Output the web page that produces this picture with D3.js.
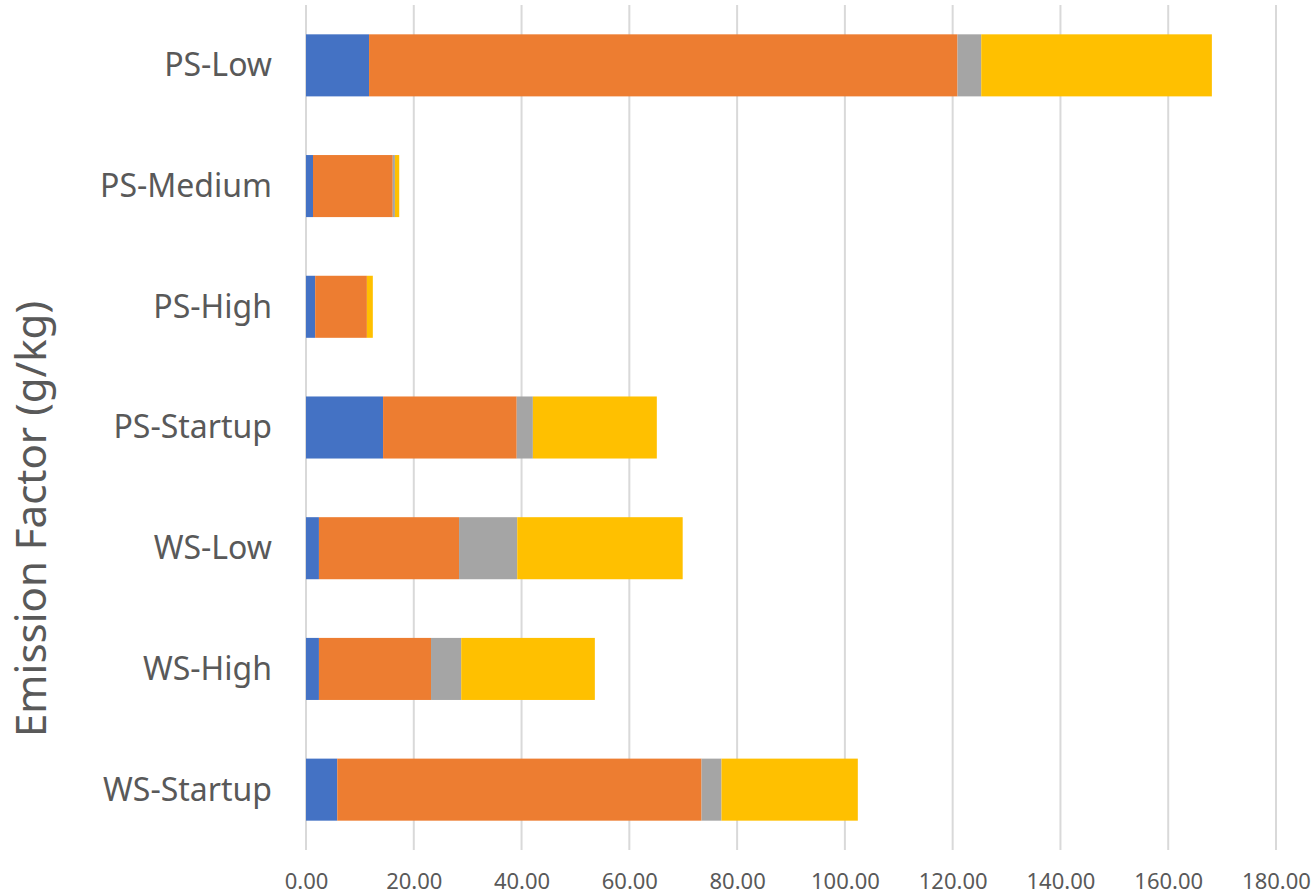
<!DOCTYPE html>
<html>
<head>
<meta charset="utf-8">
<script src="https://cdn.jsdelivr.net/npm/d3@7"></script>
<style>
  html, body { margin: 0; padding: 0; background: #ffffff; }
  svg { display: block; }
</style>
</head>
<body>
<svg id="chart" width="1311" height="896"></svg>
<script>
// ---- data ----
const categories = ["PS-Low", "PS-Medium", "PS-High", "PS-Startup", "WS-Low", "WS-High", "WS-Startup"];
const seriesKeys = ["s1", "s2", "s3", "s4"];
const series1 = [11.7, 1.3, 1.7, 14.3, 2.4, 2.4, 5.8];
const series2 = [109.2, 14.8, 9.6, 24.8, 26.0, 20.8, 67.6];
const series3 = [4.4, 0.4, 0.0, 3.0, 10.8, 5.6, 3.7];
const series4 = [42.8, 0.8, 1.1, 23.0, 30.7, 24.8, 25.3];
const xTicks = [0, 20, 40, 60, 80, 100, 120, 140, 160, 180];
const yTitle = "Emission Factor (g/kg)";

// ---- styles ----
const colors = ["#4472C4", "#ED7D31", "#A5A5A5", "#FFC000"];
const seriesValues = [series1, series2, series3, series4];

const rows = categories.map((c, i) => {
  const r = { cat: c };
  seriesKeys.forEach((k, j) => r[k] = seriesValues[j][i]);
  return r;
});

const svg = d3.select("#chart");
const x = d3.scaleLinear().domain([0, 180]).range([306, 1276]);
const y = d3.scaleBand().domain(categories).range([5, 850]).paddingInner(0.486).paddingOuter(0.243);

// gridlines
svg.append("g")
  .selectAll("line")
  .data(xTicks)
  .join("line")
  .attr("x1", d => x(d)).attr("x2", d => x(d))
  .attr("y1", 5).attr("y2", 850)
  .attr("stroke", "#d9d9d9")
  .attr("stroke-width", 2);

// stacked bars
const stack = d3.stack().keys(seriesKeys)(rows);
svg.append("g")
  .selectAll("g")
  .data(stack)
  .join("g")
  .attr("fill", (d, i) => colors[i])
  .selectAll("rect")
  .data(d => d)
  .join("rect")
  .attr("x", d => x(d[0]))
  .attr("width", d => Math.max(0, x(d[1]) - x(d[0])))
  .attr("y", d => y(d.data.cat))
  .attr("height", y.bandwidth());

// x axis labels
const xAxis = d3.axisBottom(x).tickValues(xTicks).tickFormat(d3.format(".2f")).tickSize(0).tickPadding(0);
const gx = svg.append("g").attr("transform", "translate(0,874)").call(xAxis);
gx.select(".domain").remove();
gx.selectAll("text")
  .attr("font-family", "'Noto Sans', sans-serif")
  .attr("font-size", 22)
  .attr("fill", "#595959")
  .attr("dy", "0.3em")
  .attr("y", 8);

// y axis labels
const yAxis = d3.axisLeft(y).tickSize(0).tickPadding(0);
const gy = svg.append("g").attr("transform", "translate(272,0)").call(yAxis);
gy.select(".domain").remove();
gy.selectAll("text")
  .attr("font-family", "'Noto Sans', sans-serif")
  .attr("font-size", 32)
  .attr("fill", "#595959")
  .attr("x", 0)
  .attr("dy", "0.34em");

// y title
svg.append("text")
  .attr("transform", "translate(46,519) rotate(-90)")
  .attr("text-anchor", "middle")
  .attr("font-family", "'Noto Sans', sans-serif")
  .attr("font-size", 42)
  .attr("fill", "#595959")
  .text(yTitle);
</script>
</body>
</html>
